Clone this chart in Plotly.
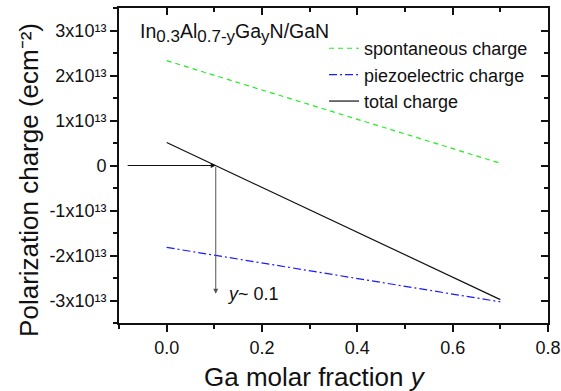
import plotly.graph_objects as go

# Data
ga_fraction = [0.0, 0.7]
spontaneous = [2.33e13, 0.05e13]
piezoelectric = [-1.82e13, -3.03e13]
total = [0.51e13, -2.98e13]
y_cross = 0.103
arrow_start_x = -0.085
arrow_end_y = -2.85e13
y_tickvals = [-3e13, -2e13, -1e13, 0, 1e13, 2e13, 3e13]
y_ticktext = ["-3x10¹³", "-2x10¹³", "-1x10¹³", "0", "1x10¹³", "2x10¹³", "3x10¹³"]
x_tickvals = [0.0, 0.2, 0.4, 0.6, 0.8]
x_ticktext = ["0.0", "0.2", "0.4", "0.6", "0.8"]

FONT = "Liberation Sans, Arial, sans-serif"
xr = [-0.1, 0.8]
yr = [-3.5e13, 3.5e13]
AX = "#111111"

fig = go.Figure()
fig.add_trace(go.Scatter(x=ga_fraction, y=spontaneous, mode="lines", name="spontaneous charge",
                         line=dict(color="#22ee22", width=1.2, dash="5px,4px")))
fig.add_trace(go.Scatter(x=ga_fraction, y=piezoelectric, mode="lines", name="piezoelectric charge",
                         line=dict(color="#1a1aff", width=1.2, dash="8px,3px,2px,3px")))
fig.add_trace(go.Scatter(x=ga_fraction, y=total, mode="lines", name="total charge",
                         line=dict(color="#111111", width=1.2)))
# invisible traces that activate the top and right axes
fig.add_trace(go.Scatter(x=[0], y=[0], xaxis="x2", yaxis="y", mode="markers",
                         marker=dict(opacity=0), showlegend=False, hoverinfo="skip"))
fig.add_trace(go.Scatter(x=[0], y=[0], xaxis="x", yaxis="y2", mode="markers",
                         marker=dict(opacity=0), showlegend=False, hoverinfo="skip"))

# arrows
fig.add_annotation(x=y_cross, y=0, ax=arrow_start_x, ay=0, xref="x", yref="y", axref="x", ayref="y",
                   showarrow=True, arrowhead=2, arrowsize=1, arrowwidth=1, arrowcolor="#111111", text="")
fig.add_annotation(x=y_cross, y=arrow_end_y, ax=y_cross, ay=0, xref="x", yref="y", axref="x", ayref="y",
                   showarrow=True, arrowhead=2, arrowsize=1, arrowwidth=1, arrowcolor="#555555", text="")
fig.add_annotation(x=y_cross + 0.02, y=arrow_end_y, xref="x", yref="y", xanchor="left", yanchor="middle",
                   showarrow=False, text="<i>y</i>~ 0.1", font=dict(family=FONT, size=18, color="#111111"))
sub = '<sub><span style="font-size:17px">{}</span></sub>'
fig.add_annotation(x=-0.061, y=2.95e13, xref="x", yref="y", xanchor="left", yanchor="middle",
                   showarrow=False,
                   text="In" + sub.format("0.3") + "Al" + sub.format("0.7-y") + "Ga" + sub.format("y") + "N/GaN",
                   font=dict(family=FONT, size=19.5, color="#111111"))
# axis titles
fig.add_annotation(x=0.456, y=-0.171, xref="paper", yref="paper", xanchor="center", yanchor="middle",
                   showarrow=False, text="Ga molar fraction <i>y</i>",
                   font=dict(family=FONT, size=26, color="#111111"))
fig.add_annotation(x=-0.21, y=0.454, xref="paper", yref="paper", xanchor="center", yanchor="middle",
                   showarrow=False, textangle=-90, text="Polarization charge (ecm⁻²)",
                   font=dict(family=FONT, size=26, color="#111111"))

fig.update_layout(
    width=561, height=391,
    margin=dict(l=119, r=13, t=8, b=68),
    plot_bgcolor="white", paper_bgcolor="white",
    font=dict(family=FONT, size=18, color="#111111"),
    showlegend=True,
    legend=dict(x=0.478, y=0.93, xanchor="left", yanchor="top", bgcolor="rgba(0,0,0,0)",
                font=dict(family=FONT, size=18, color="#111111")),
    xaxis=dict(range=xr, tickvals=x_tickvals, ticktext=x_ticktext, ticks="outside", ticklen=7,
               tickwidth=1.5, tickcolor=AX, showgrid=False, zeroline=False, showline=True,
               linecolor=AX, linewidth=2, automargin=False,
               minor=dict(dtick=0.1, tick0=0, ticks="outside", ticklen=4, tickwidth=1.5, tickcolor=AX),
               tickfont=dict(family=FONT, size=18)),
    yaxis=dict(range=yr, tickvals=y_tickvals, ticktext=y_ticktext, ticks="outside", ticklen=7,
               tickwidth=1.5, tickcolor=AX, showgrid=False, zeroline=False, showline=True,
               linecolor=AX, linewidth=2, automargin=False,
               minor=dict(dtick=0.5e13, tick0=0, ticks="outside", ticklen=4, tickwidth=1.5, tickcolor=AX),
               tickfont=dict(family=FONT, size=18)),
    xaxis2=dict(range=xr, overlaying="x", side="top", anchor="y", tickvals=x_tickvals,
                ticks="inside", ticklen=7, tickwidth=1.5, tickcolor=AX, showticklabels=False,
                showgrid=False, zeroline=False, showline=True, linecolor=AX, linewidth=2, automargin=False,
                minor=dict(dtick=0.1, tick0=0, ticks="inside", ticklen=4, tickwidth=1.5, tickcolor=AX)),
    yaxis2=dict(range=yr, overlaying="y", side="right", anchor="x", tickvals=y_tickvals,
                ticks="inside", ticklen=7, tickwidth=1.5, tickcolor=AX, showticklabels=False,
                showgrid=False, zeroline=False, showline=True, linecolor=AX, linewidth=2, automargin=False,
                minor=dict(dtick=0.5e13, tick0=0, ticks="inside", ticklen=4, tickwidth=1.5, tickcolor=AX)),
)

fig.write_html("out.html")
